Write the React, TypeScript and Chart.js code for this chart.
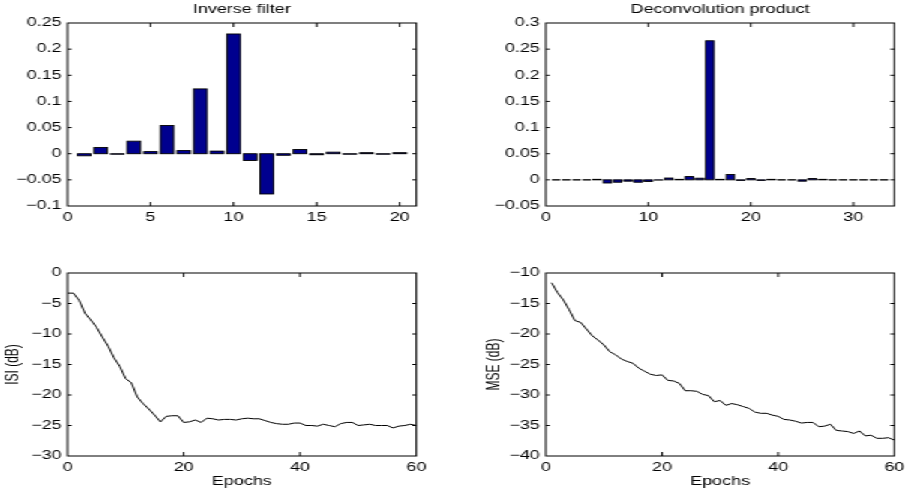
import React, { useEffect, useRef } from 'react';
import { Chart, registerables } from 'chart.js';

Chart.register(...registerables);

// ---------------- data ----------------
const FILTER_TAPS = [1, 2, 3, 4, 5, 6, 7, 8, 9, 10, 11, 12, 13, 14, 15, 16, 17, 18, 19, 20];
const FILTER_VALUES = [
  -0.004, 0.012, -0.001, 0.024, 0.004, 0.054, 0.006, 0.124, 0.005, 0.229,
  -0.013, -0.077, -0.003, 0.008, -0.002, 0.003, -0.001, 0.002, -0.001, 0.002,
];

const DECONV_TAPS = [
  1, 2, 3, 4, 5, 6, 7, 8, 9, 10, 11, 12, 13, 14, 15, 16, 17,
  18, 19, 20, 21, 22, 23, 24, 25, 26, 27, 28, 29, 30, 31, 32, 33,
];
const DECONV_VALUES = [
  0, 0, 0, 0, 0.001, -0.006, -0.0045, -0.0025, -0.0045, -0.003, -0.0005,
  0.0035, 0.001, 0.0063, 0.0032, 0.266, 0.001, 0.0103, -0.001, 0.0025, -0.001,
  0.001, 0, 0, -0.0025, 0.0025, 0.001, 0, 0, 0, 0, 0, 0,
];

const ISI_EPOCHS = [
  0, 1, 2, 3, 4, 5, 6, 7, 8, 9, 10, 11, 12, 13, 14, 15, 16, 17, 18, 19, 20,
  21, 22, 23, 24, 25, 26, 27, 28, 29, 30, 31, 32, 33, 34, 35, 36, 37, 38, 39, 40,
  41, 42, 43, 44, 45, 46, 47, 48, 49, 50, 51, 52, 53, 54, 55, 56, 57, 58, 59, 60,
];
const ISI_DB = [
  -3.3, -3.3, -4.5, -6.6, -7.7, -8.9, -10.5, -12.0, -13.9, -15.3, -17.3,
  -18.0, -20.3, -21.4, -22.3, -23.3, -24.4, -23.5, -23.4, -23.4, -24.5,
  -24.4, -24.1, -24.5, -23.8, -23.9, -24.1, -24.0, -24.0, -24.1, -23.9,
  -23.8, -23.9, -23.9, -24.2, -24.5, -24.7, -24.8, -24.8, -24.6, -24.6,
  -25.0, -25.0, -25.1, -24.8, -25.0, -25.2, -24.7, -24.5, -24.5, -25.0,
  -24.9, -24.8, -25.0, -25.0, -25.0, -25.4, -25.1, -25.0, -24.8, -25.0,
];

const MSE_EPOCHS = [
  1, 2, 3, 4, 5, 6, 7, 8, 9, 10, 11, 12, 13, 14, 15, 16, 17, 18, 19, 20,
  21, 22, 23, 24, 25, 26, 27, 28, 29, 30, 31, 32, 33, 34, 35, 36, 37, 38, 39, 40,
  41, 42, 43, 44, 45, 46, 47, 48, 49, 50, 51, 52, 53, 54, 55, 56, 57, 58, 59, 60,
];
const MSE_DB = [
  -11.6, -13.2, -14.4, -16.0, -17.8, -18.1, -19.2, -20.3, -21.0, -21.8,
  -22.9, -23.4, -24.1, -24.5, -24.8, -25.6, -26.1, -26.6, -26.8, -26.7,
  -27.6, -27.7, -28.1, -29.3, -29.3, -29.4, -29.9, -30.1, -31.1, -30.9,
  -31.7, -31.4, -31.6, -31.9, -32.2, -32.8, -33.0, -33.0, -33.3, -33.5,
  -34.0, -34.1, -34.3, -34.6, -34.5, -34.5, -35.2, -35.1, -34.8, -35.8,
  -35.9, -36.0, -36.3, -35.9, -36.7, -36.6, -37.1, -37.1, -37.0, -37.4,
];

// tick labels
const FILTER_X_TICKS = [0, 5, 10, 15, 20];
const FILTER_Y_TICKS = [-0.1, -0.05, 0, 0.05, 0.1, 0.15, 0.2, 0.25];
const DECONV_X_TICKS = [0, 10, 20, 30];
const DECONV_Y_TICKS = [-0.05, 0, 0.05, 0.1, 0.15, 0.2, 0.25, 0.3];
const EPOCH_TICKS = [0, 20, 40, 60];
const ISI_TICKS = [-30, -25, -20, -15, -10, -5, 0];
const MSE_TICKS = [-40, -35, -30, -25, -20, -15, -10];

// ---------------- styling / layout ----------------
const SX = 1.5; // horizontal stretch of the whole figure
const FONT_FAMILY = "'Liberation Sans', Arial, Helvetica, sans-serif";
const FONT_SIZE = 12;
const INK = '#000000';
const BAR_FILL = 'rgb(0,0,143)';

const LEFT_SPACE = 45;
const RIGHT_SPACE = 15;
const TOP_SPACE = 30;
const BOTTOM_SPACE = 45;

type Area = { l: number; r: number; t: number; b: number };

const AREA_TL: Area = { l: 68, r: 417, t: 23, b: 206 };
const AREA_TR: Area = { l: 546.5, r: 895, t: 23, b: 206 };
const AREA_BL: Area = { l: 68, r: 417, t: 273, b: 456 };
const AREA_BR: Area = { l: 546.5, r: 895, t: 273, b: 456 };

function fmtTick(v: number): string {
  const r = Math.round(v * 1000) / 1000;
  if (r === 0) return '0';
  return (r < 0 ? '\u2212' : '') + String(Math.abs(r));
}

const matlabAxes = {
  id: 'matlabAxes',
  afterDatasetsDraw(chart: any) {
    const ctx = chart.ctx;
    chart.data.datasets.forEach((_ds: any, i: number) => {
      const meta = chart.getDatasetMeta(i);
      if (meta.type !== 'bar') return;
      ctx.save();
      ctx.strokeStyle = INK;
      ctx.lineWidth = 0.9;
      meta.data.forEach((el: any) => {
        const { x, y, base, width } = el.getProps(['x', 'y', 'base', 'width'], true);
        const top = Math.min(y, base);
        const h = Math.abs(y - base);
        ctx.strokeRect(x - width / 2, top, width, h);
      });
      ctx.restore();
    });
  },
  afterDraw(chart: any) {
    const ctx = chart.ctx;
    const a = chart.chartArea;
    const xs = chart.scales.x;
    const ys = chart.scales.y;
    ctx.save();
    ctx.strokeStyle = INK;
    ctx.lineWidth = 1;
    ctx.strokeRect(a.left, a.top, a.right - a.left, a.bottom - a.top);
    ctx.beginPath();
    xs.ticks.forEach((t: any) => {
      const px = xs.getPixelForValue(t.value);
      if (px <= a.left + 0.5 || px >= a.right - 0.5) return;
      ctx.moveTo(px, a.bottom);
      ctx.lineTo(px, a.bottom - 4);
      ctx.moveTo(px, a.top);
      ctx.lineTo(px, a.top + 4);
    });
    ys.ticks.forEach((t: any) => {
      const py = ys.getPixelForValue(t.value);
      if (py <= a.top + 0.5 || py >= a.bottom - 0.5) return;
      ctx.moveTo(a.left, py);
      ctx.lineTo(a.left + 2.7, py);
      ctx.moveTo(a.right, py);
      ctx.lineTo(a.right - 2.7, py);
    });
    ctx.stroke();
    ctx.restore();
  },
};

type PanelSpec = {
  area: Area;
  kind: 'bar' | 'line';
  xs: number[];
  ys: number[];
  xMin: number;
  xMax: number;
  xTicks: number[];
  yMin: number;
  yMax: number;
  yTicks: number[];
  title?: string;
  xTitle?: string;
  yTitle?: string;
  yTitlePad?: number;
};

function frameOf(spec: PanelSpec) {
  const { area } = spec;
  const xH = spec.xTitle ? 34 : 20;
  const plotW = (area.r - area.l) / SX;
  const plotH = area.b - area.t;
  const width = Math.ceil(LEFT_SPACE + plotW + RIGHT_SPACE);
  const height = Math.ceil(TOP_SPACE + plotH + BOTTOM_SPACE);
  return {
    left: area.l / SX - LEFT_SPACE,
    top: area.t - TOP_SPACE,
    width,
    height,
    xH,
    padRight: width - LEFT_SPACE - plotW,
    padBottom: height - TOP_SPACE - plotH - xH,
  };
}

function Panel({ spec }: { spec: PanelSpec }) {
  const ref = useRef<HTMLCanvasElement | null>(null);
  const f = frameOf(spec);

  useEffect(() => {
    if (!ref.current) return;
    const font = { family: FONT_FAMILY, size: FONT_SIZE, weight: 'normal' as const };
    const points = spec.xs.map((x, i) => ({ x, y: spec.ys[i] }));
    const dataset: any =
      spec.kind === 'bar'
        ? {
            type: 'bar',
            data: points,
            backgroundColor: BAR_FILL,
            borderWidth: 0,
            barPercentage: 0.8,
            categoryPercentage: 1.0,
          }
        : {
            type: 'line',
            data: points,
            borderColor: INK,
            borderWidth: 1,
            pointRadius: 0,
            tension: 0,
            fill: false,
          };

    const chart = new Chart(ref.current, {
      type: spec.kind,
      data: { datasets: [dataset] },
      options: {
        animation: false,
        responsive: false,
        maintainAspectRatio: false,
        devicePixelRatio: 1,
        events: [],
        layout: {
          padding: {
            left: 0,
            right: f.padRight,
            top: spec.title ? 0 : TOP_SPACE,
            bottom: f.padBottom,
          },
        },
        plugins: {
          legend: { display: false },
          tooltip: { enabled: false },
          title: spec.title
            ? {
                display: true,
                text: spec.title,
                color: INK,
                font,
                fullSize: false,
                padding: { top: 9.1, bottom: 6.5 },
              }
            : { display: false },
        },
        scales: {
          x: {
            type: 'linear',
            min: spec.xMin,
            max: spec.xMax,
            offset: false,
            grid: { display: false, drawTicks: false },
            border: { display: false },
            ticks: {
              padding: 4,
              color: INK,
              font,
              autoSkip: false,
              maxRotation: 0,
              callback: (v: any) => fmtTick(Number(v)),
            },
            afterBuildTicks: (s: any) => {
              s.ticks = spec.xTicks.map((v) => ({ value: v }));
            },
            afterFit: (s: any) => {
              s.height = f.xH;
            },
            title: spec.xTitle
              ? { display: true, text: spec.xTitle, color: INK, font, padding: { top: 0, bottom: 0.8 } }
              : { display: false },
          },
          y: {
            type: 'linear',
            min: spec.yMin,
            max: spec.yMax,
            grid: { display: false, drawTicks: false },
            border: { display: false },
            ticks: {
              padding: 4,
              color: INK,
              font,
              autoSkip: false,
              callback: (v: any) => fmtTick(Number(v)),
            },
            afterBuildTicks: (s: any) => {
              s.ticks = spec.yTicks.map((v) => ({ value: v }));
            },
            afterFit: (s: any) => {
              s.width = LEFT_SPACE;
            },
            title: spec.yTitle
              ? {
                  display: true,
                  text: spec.yTitle,
                  color: INK,
                  font,
                  padding: { top: spec.yTitlePad ?? 1, bottom: 0 },
                }
              : { display: false },
          },
        },
      } as any,
      plugins: [matlabAxes],
    });
    return () => chart.destroy();
  }, []);

  return (
    <canvas
      ref={ref}
      width={f.width}
      height={f.height}
      style={{
        position: 'absolute',
        left: f.left,
        top: f.top,
        width: f.width,
        height: f.height,
        display: 'block',
      }}
    />
  );
}

const PANELS: PanelSpec[] = [
  {
    area: AREA_TL,
    kind: 'bar',
    xs: FILTER_TAPS,
    ys: FILTER_VALUES,
    xMin: 0,
    xMax: 21,
    xTicks: FILTER_X_TICKS,
    yMin: -0.1,
    yMax: 0.25,
    yTicks: FILTER_Y_TICKS,
    title: 'Inverse filter',
  },
  {
    area: AREA_TR,
    kind: 'bar',
    xs: DECONV_TAPS,
    ys: DECONV_VALUES,
    xMin: 0,
    xMax: 34,
    xTicks: DECONV_X_TICKS,
    yMin: -0.05,
    yMax: 0.3,
    yTicks: DECONV_Y_TICKS,
    title: 'Deconvolution product',
  },
  {
    area: AREA_BL,
    kind: 'line',
    xs: ISI_EPOCHS,
    ys: ISI_DB,
    xMin: 0,
    xMax: 60,
    xTicks: EPOCH_TICKS,
    yMin: -30,
    yMax: 0,
    yTicks: ISI_TICKS,
    xTitle: 'Epochs',
    yTitle: 'ISI (dB)',
    yTitlePad: 1.1,
  },
  {
    area: AREA_BR,
    kind: 'line',
    xs: MSE_EPOCHS,
    ys: MSE_DB,
    xMin: 0,
    xMax: 60,
    xTicks: EPOCH_TICKS,
    yMin: -40,
    yMax: -10,
    yTicks: MSE_TICKS,
    xTitle: 'Epochs',
    yTitle: 'MSE (dB)',
    yTitlePad: 3.5,
  },
];

export default function App() {
  useEffect(() => {
    document.body.style.overflow = 'hidden';
    document.documentElement.style.overflow = 'hidden';
  }, []);
  return (
    <div
      style={{
        position: 'absolute',
        left: 0,
        top: 0,
        width: 905,
        height: 490,
        overflow: 'hidden',
        background: '#ffffff',
      }}
    >
      <div
        style={{
          position: 'absolute',
          left: 0,
          top: 0,
          width: 905 / SX,
          height: 490,
          transform: `scaleX(${SX})`,
          transformOrigin: '0 0',
        }}
      >
        {PANELS.map((p, i) => (
          <Panel key={i} spec={p} />
        ))}
      </div>
    </div>
  );
}
